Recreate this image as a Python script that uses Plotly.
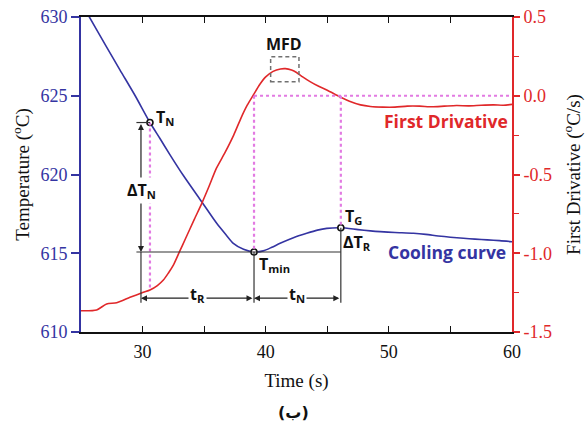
import plotly.graph_objects as go

# ---------------- data ----------------
time_cool = [25.0, 25.68, 27.0, 28.17, 29.4, 30.6, 31.4, 32.23, 33.3, 34.8, 36.02, 36.8, 37.37,
             38.2, 39.05, 39.8, 40.5, 41.17, 42.3, 43.33, 44.2, 44.96, 46.1, 47.5, 48.5, 49.29,
             50.5, 52.0, 53.0, 54.0, 55.0, 56.06, 57.0, 58.0, 59.0, 60.0]
temp_cool = [630.9, 630.0, 628.2, 626.63, 625.0, 623.3, 622.3, 621.25, 619.95, 618.27, 616.9,
             616.15, 615.63, 615.25, 615.08, 615.15, 615.38, 615.63, 616.0, 616.27, 616.47,
             616.58, 616.62, 616.5, 616.42, 616.37, 616.32, 616.27, 616.2, 616.1, 616.02,
             615.95, 615.9, 615.85, 615.8, 615.73]

time_deriv = [25.0, 26.27, 27.08, 27.9, 28.98, 30.06, 30.6, 31.2, 31.69, 32.1, 32.5, 33.0, 33.5,
              34.2, 34.8, 35.4, 36.0, 36.7, 37.4, 38.0, 38.5, 39.0, 39.5, 40.0, 40.6, 41.2,
              41.6, 42.1, 42.5, 43.0, 43.6, 44.3, 45.0, 46.0, 46.8, 47.7, 48.5, 49.5, 50.5,
              51.5, 52.5, 53.5, 54.5, 55.5, 56.5, 57.5, 58.5, 59.3, 60.0]
deriv = [-1.365, -1.36, -1.322, -1.314, -1.28, -1.248, -1.233, -1.205, -1.17, -1.125, -1.075,
         -0.99, -0.905, -0.785, -0.685, -0.575, -0.46, -0.36, -0.25, -0.14, -0.06, 0.005, 0.07,
         0.12, 0.155, 0.17, 0.172, 0.163, 0.148, 0.12, 0.09, 0.06, 0.035, -0.006, -0.035,
         -0.058, -0.068, -0.072, -0.072, -0.066, -0.066, -0.07, -0.066, -0.062, -0.064, -0.06,
         -0.058, -0.06, -0.055]

# characteristic points: T_N, T_min, T_G
event_t = [30.6, 39.05, 46.1]
event_T = [623.3, 615.08, 616.62]

x_ticks = [30, 40, 50, 60]
y_ticks = [610, 615, 620, 625, 630]
y2_ticks = [-1.5, -1.0, -0.5, 0.0, 0.5]
y2_labels = ["-1.5", "-1.0", "-0.5", "0.0", "0.5"]

# ---------------- styling ----------------
BLUE = "#3434a2"
RED = "#e0282a"
PINK = "#e27ae2"
SERIF = "Liberation Serif"
SANS = "Open Sans"

Y1 = [610, 630]
Y2 = [-1.5, 0.5]


def to_y2(T):
    return Y2[0] + (T - Y1[0]) * (Y2[1] - Y2[0]) / (Y1[1] - Y1[0])


tN, tmin, tG = event_t
TN, Tmin, TG = event_T
x_left = 29.87        # position of left bracket
x_tick_start = 29.5
y_arrow = 612.15      # level of time arrows

fig = go.Figure()
fig.add_trace(go.Scatter(x=time_cool, y=temp_cool, mode="lines",
                         line=dict(color=BLUE, width=1.6, shape="spline", smoothing=0.7),
                         yaxis="y", showlegend=False, hoverinfo="skip"))
fig.add_trace(go.Scatter(x=time_deriv, y=deriv, mode="lines",
                         line=dict(color=RED, width=1.6, shape="spline", smoothing=0.7),
                         yaxis="y2", showlegend=False, hoverinfo="skip"))

shapes = []
dot = dict(color=PINK, width=2.2, dash="dot")
red_at_tN = deriv[time_deriv.index(tN)]
shapes.append(dict(type="line", xref="x", yref="y2", x0=tN, x1=tN, y0=to_y2(TN), y1=red_at_tN, line=dot))
shapes.append(dict(type="line", xref="x", yref="y2", x0=tmin, x1=tmin, y0=0, y1=to_y2(Tmin), line=dot))
shapes.append(dict(type="line", xref="x", yref="y2", x0=tG, x1=tG, y0=0, y1=to_y2(TG), line=dot))
shapes.append(dict(type="line", xref="x", yref="y2", x0=tmin, x1=60, y0=0, y1=0, line=dot))
blk = dict(color="#333333", width=1.2)
shapes.append(dict(type="line", xref="x", yref="y", x0=x_tick_start, x1=tG, y0=Tmin, y1=Tmin, line=blk))
shapes.append(dict(type="line", xref="x", yref="y", x0=x_tick_start, x1=tN, y0=TN, y1=TN, line=blk))
shapes.append(dict(type="line", xref="x", yref="y", x0=x_left, x1=x_left, y0=Tmin, y1=y_arrow - 0.3, line=blk))
shapes.append(dict(type="line", xref="x", yref="y", x0=tmin, x1=tmin, y0=Tmin, y1=y_arrow - 0.3, line=blk))
shapes.append(dict(type="line", xref="x", yref="y", x0=tG, x1=tG, y0=TG, y1=y_arrow - 0.3, line=blk))
shapes.append(dict(type="rect", xref="x", yref="y2", x0=40.4, x1=42.7, y0=0.089, y1=0.248,
                   line=dict(color="#707070", width=1.5, dash="4px,3px")))

annotations = []
arr = dict(showarrow=True, arrowhead=2, arrowsize=1.0, arrowwidth=1.2, arrowcolor="#222222",
           arrowside="end+start", text="", axref="x", ayref="y", xref="x", yref="y")
annotations.append(dict(arr, x=x_left, y=Tmin, ax=x_left, ay=TN))
annotations.append(dict(arr, x=x_left, y=y_arrow, ax=tmin, ay=y_arrow))
annotations.append(dict(arr, x=tmin, y=y_arrow, ax=tG, ay=y_arrow))

lab = dict(showarrow=False, xref="x", yref="y", font=dict(family=SANS, size=16, color="#111111"))
annotations.append(dict(lab, x=tN + 0.3, y=623.65, text="<b>T<sub>N</sub></b>", xanchor="left", yanchor="middle"))
annotations.append(dict(lab, x=x_left + 0.05, y=619.0, text="<b>ΔT<sub>N</sub></b>", xanchor="center",
                        yanchor="middle", bgcolor="white"))
annotations.append(dict(lab, x=tmin + 0.25, y=614.3, text="<b>T<sub>min</sub></b>", xanchor="left", yanchor="middle"))
annotations.append(dict(lab, x=tG + 0.15, y=617.35, text="<b>T<sub>G</sub></b>", xanchor="left", yanchor="middle"))
annotations.append(dict(lab, x=tG + 0.0, y=615.7, text="<b>ΔT<sub>R</sub></b>", xanchor="left", yanchor="middle"))
annotations.append(dict(lab, x=(x_left + tmin) / 2, y=612.4, text="<b>t<sub>R</sub></b>", xanchor="center",
                        yanchor="middle", bgcolor="white"))
annotations.append(dict(lab, x=(tmin + tG) / 2, y=612.35, text="<b>t<sub>N</sub></b>", xanchor="center",
                        yanchor="middle", bgcolor="white"))
annotations.append(dict(showarrow=False, xref="x", yref="y2", x=41.5, y=0.33, text="<b>MFD</b>",
                        font=dict(family=SANS, size=16, color="#111111")))
annotations.append(dict(showarrow=False, xref="x", yref="y", x=54.75, y=615.1, text="<b>Cooling curve</b>",
                        font=dict(family=SANS, size=17.5, color=BLUE)))
annotations.append(dict(showarrow=False, xref="x", yref="y2", x=54.65, y=-0.16, text="<b>First Drivative</b>",
                        font=dict(family=SANS, size=17.5, color=RED)))
annotations.append(dict(showarrow=False, xref="paper", yref="paper", x=0.492, y=-0.255,
                        xanchor="center", yanchor="middle", text="<b>(ب)</b>",
                        font=dict(family="DejaVu Sans", size=16, color="#111111")))

fig.add_trace(go.Scatter(x=event_t, y=event_T, mode="markers",
                         marker=dict(symbol="circle", size=6, color="white",
                                     line=dict(color="#111111", width=1.6)),
                         yaxis="y", showlegend=False, hoverinfo="skip"))

fig.update_layout(
    width=585, height=432,
    margin=dict(l=81, r=73, t=17, b=100, autoexpand=False),
    paper_bgcolor="white", plot_bgcolor="white",
    shapes=shapes, annotations=annotations,
    xaxis=dict(range=[25, 60], tickvals=x_ticks, ticks="inside", ticklen=6, tickwidth=1.2,
               tickcolor="#111111", automargin=False, ticklabelstandoff=3,
               minor=dict(dtick=5, tick0=0, ticks="inside", ticklen=6, tickwidth=1.2, tickcolor="#111111"),
               showline=True, linecolor="#111111", linewidth=1.5, mirror="allticks",
               showgrid=False, zeroline=False,
               tickfont=dict(family=SERIF, size=18, color="#111111"),
               title=dict(text="Time (s)", font=dict(family=SERIF, size=19, color="#111111"), standoff=12)),
    yaxis=dict(range=Y1, tickvals=y_ticks, ticks="outside", ticklen=8, tickwidth=1.5, tickcolor=BLUE,
               showline=True, linecolor=BLUE, linewidth=2, showgrid=False, zeroline=False,
               automargin=False,
               tickfont=dict(family=SERIF, size=18, color=BLUE),
               title=dict(text="Temperature (<sup>o</sup>C)", font=dict(family=SERIF, size=19, color="#111111"),
                          standoff=6)),
    yaxis2=dict(range=Y2, tickvals=y2_ticks, ticktext=y2_labels, overlaying="y", side="right",
                ticks="outside", ticklen=6, tickwidth=1.5, tickcolor=RED, automargin=False,
                minor=dict(dtick=0.25, tick0=0, ticks="outside", ticklen=5, tickwidth=1.2, tickcolor=RED),
                showline=True, linecolor=RED, linewidth=2, showgrid=False, zeroline=False,
                tickfont=dict(family=SERIF, size=18, color=RED),
                title=dict(text="First Drivative (<sup>o</sup>C/s)", font=dict(family=SERIF, size=19, color="#111111"),
                           standoff=16)),
)

fig.write_html("out.html")
